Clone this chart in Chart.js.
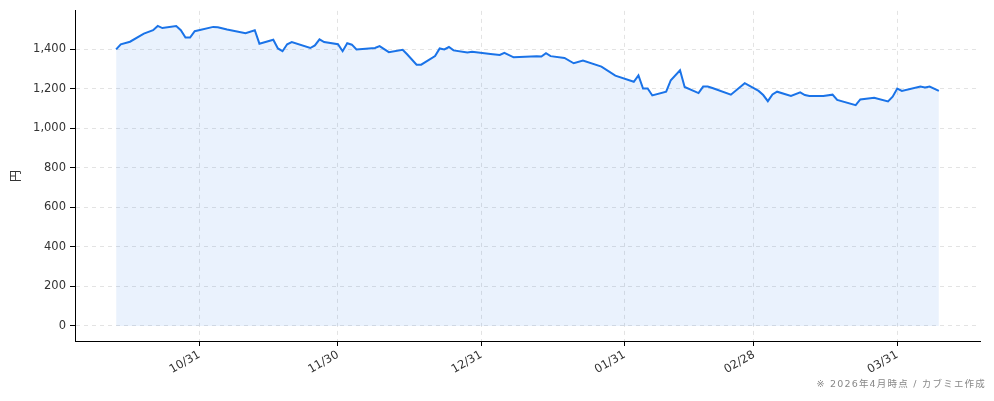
<!DOCTYPE html>
<html>
<head>
<meta charset="utf-8">
<script src="https://cdn.jsdelivr.net/npm/chart.js@4.4.1/dist/chart.umd.min.js"></script>
<style>
  html, body { margin: 0; padding: 0; background: #fff; }
  #wrap { width: 994px; height: 401px; position: relative; }
</style>
</head>
<body>
<div id="wrap"><canvas id="myChart" width="994" height="401"></canvas></div>
<script>
// 日付と株価（円）
const fechas = [
    '2025-10-13', '2025-10-14', '2025-10-16', '2025-10-19', '2025-10-21', '2025-10-22', '2025-10-23',
    '2025-10-26', '2025-10-27', '2025-10-28', '2025-10-29', '2025-10-30', '2025-11-03', '2025-11-04',
    '2025-11-06', '2025-11-10', '2025-11-12', '2025-11-13', '2025-11-16', '2025-11-17', '2025-11-18',
    '2025-11-19', '2025-11-20', '2025-11-24', '2025-11-25', '2025-11-26', '2025-11-27', '2025-11-30',
    '2025-12-01', '2025-12-02', '2025-12-03', '2025-12-04', '2025-12-08', '2025-12-09', '2025-12-11',
    '2025-12-14', '2025-12-15', '2025-12-17', '2025-12-18', '2025-12-21', '2025-12-22', '2025-12-23',
    '2025-12-24', '2025-12-25', '2025-12-28', '2025-12-29', '2026-01-02', '2026-01-04', '2026-01-05',
    '2026-01-07', '2026-01-12', '2026-01-13', '2026-01-14', '2026-01-15', '2026-01-18', '2026-01-20',
    '2026-01-22', '2026-01-26', '2026-01-29', '2026-02-02', '2026-02-03', '2026-02-04', '2026-02-05',
    '2026-02-06', '2026-02-09', '2026-02-10', '2026-02-12', '2026-02-13', '2026-02-16', '2026-02-17',
    '2026-02-18', '2026-02-19', '2026-02-23', '2026-02-26', '2026-03-01', '2026-03-02', '2026-03-03',
    '2026-03-04', '2026-03-05', '2026-03-08', '2026-03-10', '2026-03-11', '2026-03-12', '2026-03-15',
    '2026-03-17', '2026-03-18', '2026-03-22', '2026-03-23', '2026-03-26', '2026-03-29', '2026-03-30',
    '2026-03-31', '2026-04-01', '2026-04-05', '2026-04-06', '2026-04-07', '2026-04-09'
];
const precios = [
    1400, 1426, 1439, 1480, 1497, 1519, 1508,
    1518, 1497, 1460, 1460, 1492, 1514, 1512,
    1501, 1482, 1497, 1429, 1449, 1405, 1391,
    1426, 1437, 1407, 1420, 1451, 1437, 1426,
    1391, 1431, 1424, 1400, 1407, 1417, 1386,
    1398, 1374, 1323, 1323, 1366, 1405, 1400,
    1412, 1395, 1385, 1388, 1377, 1372, 1383,
    1360, 1366, 1364, 1381, 1366, 1357, 1330,
    1344, 1313, 1267, 1236, 1268, 1202, 1202,
    1167, 1186, 1244, 1294, 1210, 1179, 1212,
    1212, 1205, 1171, 1229, 1190, 1169, 1138,
    1172, 1186, 1164, 1183, 1169, 1164, 1164,
    1171, 1144, 1118, 1147, 1155, 1137, 1161,
    1202, 1190, 1212, 1207, 1212, 1190
];
// 目盛り（x軸の日付と y軸の値）
const fechasTicks = ['2025-10-31', '2025-11-30', '2025-12-31', '2026-01-31', '2026-02-28', '2026-03-31'];
const etiquetasTicks = ['10/31', '11/30', '12/31', '01/31', '02/28', '03/31'];
const valoresY = [0, 200, 400, 600, 800, 1000, 1200, 1400];

// 10/31 からの日数に変換
const base = Date.UTC(2025, 9, 31);
function dias(s) {
    const p = s.split('-').map(Number);
    return (Date.UTC(p[0], p[1] - 1, p[2]) - base) / 86400000;
}
const puntos = fechas.map((f, i) => ({ x: dias(f), y: precios[i] }));
const diasTicks = fechasTicks.map(dias);

const xMin = dias(fechas[0]), xMax = dias(fechas[fechas.length - 1]);
const xPad = (xMax - xMin) * 0.05;
const yMaxData = Math.max(...precios);
const yPad = yMaxData * 0.05;

const fuente = "'DejaVu Sans', 'Noto Sans CJK JP', sans-serif";

const notaPlugin = {
    id: 'nota',
    afterDraw(chart) {
        const ctx = chart.ctx;
        ctx.save();
        ctx.font = "9.5px " + fuente;
        ctx.letterSpacing = '1.2px';
        ctx.fillStyle = '#888';
        ctx.textAlign = 'right';
        ctx.textBaseline = 'middle';
        ctx.fillText('※ 2026年4月時点 / カブミエ作成', 986, 385);
        ctx.restore();
    }
};

const ctx = document.getElementById('myChart').getContext('2d');
new Chart(ctx, {
    type: 'line',
    data: {
        datasets: [{
            data: puntos,
            borderColor: '#1a73e8',
            backgroundColor: 'rgba(26, 115, 232, 0.09)',
            borderWidth: 2,
            pointRadius: 0,
            tension: 0,
            fill: 'origin'
        }]
    },
    options: {
        responsive: false,
        animation: false,
        layout: { padding: { left: 0, right: 14, top: 10, bottom: 0 } },
        plugins: {
            legend: { display: false },
            tooltip: { enabled: false }
        },
        scales: {
            x: {
                type: 'linear',
                min: xMin - xPad,
                max: xMax + xPad,
                afterBuildTicks: scale => {
                    scale.ticks = diasTicks.map(v => ({ value: v }));
                },
                afterFit: scale => { scale.height = 60; },
                ticks: {
                    autoSkip: false,
                    maxRotation: 30,
                    minRotation: 30,
                    padding: 2,
                    color: '#333',
                    font: { family: fuente, size: 11.5 },
                    callback: v => etiquetasTicks[diasTicks.indexOf(v)]
                },
                grid: {
                    color: '#e3e3e3',
                    borderDash: [4, 4],
                    tickColor: '#000',
                    tickBorderDash: [],
                    tickLength: 5
                },
                border: { display: true, color: '#000', width: 1, dash: [4, 4] }
            },
            y: {
                min: -yPad,
                max: yMaxData + yPad,
                afterBuildTicks: scale => {
                    scale.ticks = valoresY.map(v => ({ value: v }));
                },
                afterFit: scale => { scale.width = 75; },
                ticks: {
                    color: '#333',
                    padding: 4,
                    font: { family: fuente, size: 11.5 },
                    callback: v => v.toLocaleString('en-US')
                },
                grid: {
                    color: '#e3e3e3',
                    tickColor: '#000',
                    tickBorderDash: [],
                    tickLength: 5
                },
                border: { display: true, color: '#000', width: 1, dash: [4, 4] },
                title: {
                    display: true,
                    text: '円',
                    color: '#333',
                    padding: { top: 10, bottom: 4 },
                    font: { family: fuente, size: 12 }
                }
            }
        }
    },
    plugins: [notaPlugin]
});
</script>
</body>
</html>
